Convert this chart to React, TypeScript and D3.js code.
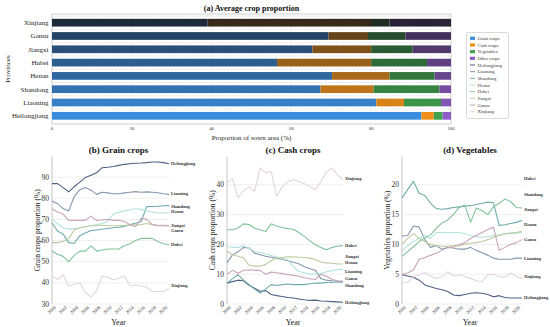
import { useEffect, useRef } from "react";
import * as d3 from "d3";

// ---- data ----
const provinces = ["Heilongjiang", "Liaoning", "Shandong", "Henan", "Hubei", "Jiangxi", "Gansu", "Xinjiang"];
const cropTypes = ["Grain crops", "Cash crops", "Vegetables", "Other crops"];

// average share of sown area (%), same order as provinces
const grainShare = [92.6, 81.3, 67.3, 70.2, 56.4, 65.3, 69.3, 39.0];
const cashShare = [3.1, 6.9, 13.3, 14.4, 23.6, 14.7, 9.9, 41.2];
const vegShare = [2.2, 9.3, 16.5, 11.3, 14.0, 10.4, 9.4, 4.4];
const otherShare = [2.1, 2.5, 2.9, 4.1, 6.0, 9.6, 11.4, 15.4];
const shareTicks = [0, 20, 40, 60, 80, 100];

const years = [2000, 2001, 2002, 2003, 2004, 2005, 2006, 2007, 2008, 2009, 2010,
  2011, 2012, 2013, 2014, 2015, 2016, 2017, 2018, 2019, 2020, 2021];
const yearTicks = [2000, 2002, 2004, 2006, 2008, 2010, 2012, 2014, 2016, 2018, 2020];

const grainByProvince: Record<string, number[]> = {
  Heilongjiang: [86.9, 86.9, 85, 83, 85.5, 87.6, 89.8, 90.8, 92, 94.4, 94.6, 95, 95.5, 96, 96.3, 96.5, 96.6, 96.8, 97.1, 97.1, 96.8, 96.3],
  Liaoning: [78.7, 77.4, 75.1, 74, 80.9, 84, 85, 83.8, 81.8, 82.8, 82.5, 82.1, 82.1, 82.5, 82.8, 83.1, 82.8, 83, 82.8, 82.6, 82.1, 81.8],
  Shandong: [68.3, 64.5, 63, 59, 58.7, 62.3, 63.5, 64.7, 65, 65.3, 65.7, 66, 66.3, 66.7, 67.5, 68.2, 69, 76, 76.1, 76.2, 76.4, 76.5],
  Henan: [70, 68, 66, 65.5, 65.5, 66, 66.5, 67, 67.5, 68, 69, 72.5, 73.3, 74, 74.5, 75, 74.7, 74, 73.5, 73, 73, 73.2],
  Hubei: [55, 53.5, 52.5, 50, 53, 55, 55, 57.5, 55, 55.5, 56, 56, 56, 57.5, 58.5, 60, 61, 61, 61, 59.5, 58.5, 58],
  Jiangxi: [59, 59, 59.5, 61, 65, 66, 66.5, 67, 67, 67.2, 67, 67, 67, 67.2, 67.3, 67.4, 67.5, 68, 67.5, 67.2, 67.2, 67.2],
  Gansu: [75, 73.5, 72.5, 69.5, 69.5, 69.5, 69.5, 71.5, 69.5, 69.7, 70, 69.5, 69.5, 69, 67.5, 66.5, 70.5, 70, 67.5, 67, 67, 66.9],
  Xinjiang: [43.3, 41.6, 43.7, 38.5, 39.3, 40, 35.3, 33.4, 36.3, 43.2, 42.6, 41.4, 42.2, 43.3, 38.5, 39.1, 38.5, 37.9, 35.9, 36, 35.8, 37.3],
};

const cashByProvince: Record<string, number[]> = {
  Heilongjiang: [7, 7.5, 8, 7.8, 6.3, 5.3, 4.3, 4.5, 3.2, 2.8, 2.5, 2.2, 2, 1.7, 1.4, 1.2, 1.3, 1, 0.9, 0.8, 0.7, 0.6],
  Liaoning: [13.8, 16.5, 17.5, 19, 18.8, 17, 16.5, 16, 15.7, 15.3, 15, 14.5, 14, 13.5, 12.5, 11.8, 11.3, 8.5, 8, 7.8, 7.7, 7.6],
  Shandong: [7, 8.5, 9.8, 8, 6.5, 5, 3.7, 5, 6.5, 6.2, 6.5, 6.7, 6.5, 6.5, 6.5, 6.8, 7, 7, 7.2, 7.3, 7.3, 7.3],
  Henan: [19.3, 19, 19, 19.5, 18.8, 17.5, 17.3, 16.8, 16.3, 15.8, 15.3, 14.8, 12.5, 11, 10.5, 10, 10, 10.3, 10.8, 11.2, 11.5, 11.7],
  Hubei: [24.9, 24.9, 25.5, 26.9, 26.7, 25.4, 24.9, 24.3, 26.9, 26.2, 25.7, 25.3, 25.1, 24, 22.7, 21.2, 19.9, 19, 18.2, 19, 19.4, 19.6],
  Jiangxi: [17.7, 16.5, 16, 15.5, 13, 12.7, 12.7, 13.3, 14.5, 15.4, 15.6, 15.8, 15.8, 15.7, 15.6, 15.4, 14.9, 14.1, 13.8, 13.7, 13.4, 13.4],
  Gansu: [10, 11.3, 10.3, 11.3, 11.5, 11.3, 11.3, 10, 10.7, 10.5, 10.2, 9.9, 9.6, 9.3, 8.8, 8.5, 8.2, 10, 9.3, 8.3, 7.7, 7.4],
  Xinjiang: [40.6, 42, 35.6, 38.1, 39.3, 37.8, 45.6, 44, 44.5, 36.1, 39.3, 41.1, 41.7, 41.1, 40.4, 39.3, 38.4, 41.1, 44.2, 45.6, 43.4, 41.7],
};

const vegByProvince: Record<string, number[]> = {
  Heilongjiang: [4.9, 4.7, 4.5, 4, 3.2, 2.9, 2.6, 2.4, 2.1, 1.5, 1.4, 1.6, 1.8, 1.9, 1.8, 1.6, 1.2, 1.4, 1.1, 1, 1, 1],
  Liaoning: [11.4, 11.5, 13.1, 12.9, 10.8, 9.5, 9.8, 9.2, 9.5, 9.4, 9.2, 9.2, 9.5, 9, 8.6, 8.2, 7.7, 7.5, 7.5, 7.5, 7.7, 7.7],
  Shandong: [17.8, 19.2, 20.6, 18.6, 18.2, 16.9, 16, 15.9, 16, 16.2, 16.3, 16.4, 16.5, 16.7, 16.9, 17.1, 17, 13.2, 13.3, 13.5, 13.7, 14],
  Henan: [9, 9.8, 10.5, 11, 11.5, 11, 12, 12, 12, 12, 12, 11.8, 11.5, 11.3, 11.2, 11.3, 11.5, 11.6, 11.8, 11.8, 11.9, 12],
  Hubei: [8, 8.8, 9.6, 10.5, 11.1, 11.6, 12.7, 13.6, 14.1, 15, 16.2, 16.6, 13.7, 16.1, 15.7, 15, 16.3, 16.9, 17.6, 17.2, 16.2, 16.1],
  Jiangxi: [10, 11, 11.8, 11, 10.5, 10, 9.8, 9.7, 9.7, 9.8, 9.8, 10, 10.2, 10.3, 10.5, 10.8, 11.2, 11.5, 11.8, 11.9, 12, 12.2],
  Gansu: [5, 5.2, 5.7, 7.5, 7.8, 8.2, 8.5, 9, 9.5, 9.5, 10, 10.3, 11, 11.5, 12, 12.5, 12.9, 9, 9.5, 10, 10.3, 10.8],
  Xinjiang: [3.7, 3.6, 4.6, 4.9, 5.3, 4.7, 4.3, 4.6, 5.4, 4.7, 4.9, 4.6, 4.3, 3.9, 3.7, 4.9, 5, 4.6, 4.5, 5.2, 4.6, 4.3],
};

// where the province name sits at the end of each line, in axis units
const grainLabelAt = [96.6, 82.2, 76.3, 73.5, 58.1, 67.1, 64.9, 38.6];
const cashLabelAt = [0.6, 10.9, 6.1, 13.8, 19.8, 16, 8.7, 42];
const vegLabelAt = [1.1, 7.6, 18.4, 13.4, 21, 15.8, 10.9, 4.6];

const grainTicks = [30, 40, 50, 60, 70, 80, 90];
const cashTicks = [0, 10, 20, 30, 40];
const vegTicks = [0, 5, 10, 15, 20];

// ---- styles ----
const FONT = "'Liberation Serif', 'Times New Roman', serif";
const cropColors = ["#3a8dde", "#ef9018", "#3fa34d", "#8e5cc7"];
const provinceShade = [0, 0.11, 0.23, 0.32, 0.4, 0.52, 0.63, 0.85];
const lineColors = ["#4f5f83", "#8496ab", "#6fabab", "#b3e2df", "#80c29a", "#bdcb9f", "#c9a5b8", "#e5d5de"];

const panels = [
  { title: "(b) Grain crops", ylabel: "Grain crops proportion (%)", series: grainByProvince, labelAt: grainLabelAt, domain: [30, 99.7], ticks: grainTicks, left: 52, right: 169 },
  { title: "(c) Cash crops", ylabel: "Cash crops proportion (%)", series: cashByProvince, labelAt: cashLabelAt, domain: [0, 49.5], ticks: cashTicks, left: 227, right: 343 },
  { title: "(d) Vegetables", ylabel: "Vegetables proportion (%)", series: vegByProvince, labelAt: vegLabelAt, domain: [0, 24.75], ticks: vegTicks, left: 402, right: 522 },
];

export default function App() {
  const svgRef = useRef<SVGSVGElement>(null);

  useEffect(() => {
    if (!svgRef.current) return;
    const svg = d3.select(svgRef.current);
    svg.selectAll("*").remove();
    svg.attr("font-family", FONT);

    // ── (a) stacked bars ──
    const frame = { left: 52, right: 451, top: 14, bottom: 124 };
    const xA = d3.scaleLinear().domain([0, 100]).range([frame.left, frame.right]);
    const yA = d3
      .scaleBand()
      .domain([...provinces].reverse())
      .range([15.5, 123])
      .paddingInner(0.42)
      .paddingOuter(0.25);

    const rows = provinces.map((p, i) => ({
      province: p,
      "Grain crops": grainShare[i],
      "Cash crops": cashShare[i],
      Vegetables: vegShare[i],
      "Other crops": otherShare[i],
    }));
    const stacked = d3.stack<any>().keys(cropTypes)(rows);

    const gA = svg.append("g");
    gA.append("rect")
      .attr("x", frame.left)
      .attr("y", frame.top)
      .attr("width", frame.right - frame.left)
      .attr("height", frame.bottom - frame.top)
      .attr("fill", "white")
      .attr("stroke", "#cfcfcf")
      .attr("stroke-width", 1);

    gA.selectAll("line.vgrid")
      .data(shareTicks.slice(1, -1))
      .join("line")
      .attr("x1", (d) => xA(d))
      .attr("x2", (d) => xA(d))
      .attr("y1", frame.top)
      .attr("y2", frame.bottom)
      .attr("stroke", "#ececec")
      .attr("stroke-width", 0.6);

    const gap = (yA.step() * yA.paddingInner()) / 2;
    gA.selectAll("line.hgrid")
      .data(provinces)
      .join("line")
      .attr("x1", frame.left)
      .attr("x2", frame.right)
      .attr("y1", (d) => (yA(d) ?? 0) - gap)
      .attr("y2", (d) => (yA(d) ?? 0) - gap)
      .attr("stroke", "#cfcfcf")
      .attr("stroke-width", 0.6)
      .attr("stroke-dasharray", "2,1.5");

    stacked.forEach((layer, k) => {
      gA.append("g")
        .selectAll("rect")
        .data(layer)
        .join("rect")
        .attr("x", (d) => xA(d[0]))
        .attr("width", (d) => xA(d[1]) - xA(d[0]))
        .attr("y", (d: any) => yA(d.data.province) ?? 0)
        .attr("height", yA.bandwidth())
        .attr("fill", (_, i) => d3.interpolateRgb(cropColors[k], "#18181c")(provinceShade[i]));
    });

    gA.selectAll("text.ytick")
      .data(provinces)
      .join("text")
      .attr("x", frame.left - 3.5)
      .attr("y", (d) => (yA(d) ?? 0) + yA.bandwidth() / 2)
      .attr("dy", "0.35em")
      .attr("text-anchor", "end")
      .attr("font-size", 7)
      .attr("fill", "#222")
      .text((d) => d);

    gA.selectAll("text.xtick")
      .data(shareTicks)
      .join("text")
      .attr("x", (d) => xA(d))
      .attr("y", 130)
      .attr("text-anchor", "middle")
      .attr("font-size", 4.6)
      .attr("fill", "#333")
      .text((d) => d);

    gA.append("text")
      .attr("x", (frame.left + frame.right) / 2)
      .attr("y", 139.5)
      .attr("text-anchor", "middle")
      .attr("font-size", 7)
      .attr("fill", "#222")
      .text("Proportion of sown area (%)");

    gA.append("text")
      .attr("transform", `translate(9.5,${(frame.top + frame.bottom) / 2}) rotate(-90)`)
      .attr("text-anchor", "middle")
      .attr("font-size", 7)
      .attr("fill", "#222")
      .text("Provinces");

    gA.append("text")
      .attr("x", (frame.left + frame.right) / 2)
      .attr("y", 10.5)
      .attr("text-anchor", "middle")
      .attr("font-size", 8)
      .attr("font-weight", "bold")
      .attr("fill", "#111")
      .text("(a) Average crop proportion");

    // ── legend ──
    const lg = svg.append("g");
    lg.append("rect")
      .attr("x", 466.5)
      .attr("y", 32.5)
      .attr("width", 42)
      .attr("height", 86)
      .attr("rx", 1.5)
      .attr("fill", "white")
      .attr("stroke", "#d0d0d0")
      .attr("stroke-width", 0.8);
    const entries = [
      ...cropTypes.map((c, i) => ({ name: c, color: cropColors[i], kind: "patch" })),
      ...provinces.map((p, i) => ({ name: p, color: lineColors[i], kind: "line" })),
    ];
    const ly = d3.scaleLinear().domain([0, entries.length - 1]).range([38.3, 111.7]);
    entries.forEach((e, i) => {
      if (e.kind === "patch") {
        lg.append("rect").attr("x", 470).attr("y", ly(i) - 1.6).attr("width", 5).attr("height", 3.2).attr("fill", e.color);
      } else {
        lg.append("line").attr("x1", 470).attr("x2", 475).attr("y1", ly(i)).attr("y2", ly(i)).attr("stroke", e.color).attr("stroke-width", 1);
      }
      lg.append("text")
        .attr("x", 477.5)
        .attr("y", ly(i))
        .attr("dy", "0.35em")
        .attr("font-size", 4.7)
        .attr("fill", "#333")
        .text(e.name);
    });

    // ── (b)(c)(d) line panels ──
    const top = 156.5;
    const bottom = 304;
    panels.forEach((p) => {
      const g = svg.append("g");
      const x = d3.scaleLinear().domain([years[0], years[years.length - 1]]).range([p.left, p.right]);
      const y = d3.scaleLinear().domain(p.domain).range([bottom, top]);

      g.selectAll("line.grid")
        .data(p.ticks)
        .join("line")
        .attr("x1", p.left)
        .attr("x2", p.right)
        .attr("y1", (d) => y(d))
        .attr("y2", (d) => y(d))
        .attr("stroke", "#e8e8e8")
        .attr("stroke-width", 0.7);

      g.append("line")
        .attr("x1", p.left)
        .attr("x2", p.left)
        .attr("y1", top)
        .attr("y2", bottom)
        .attr("stroke", "#c4c4c4")
        .attr("stroke-width", 1);

      const line = d3
        .line<number>()
        .x((_, i) => x(years[i]))
        .y((d) => y(d));

      provinces.forEach((prov, i) => {
        g.append("path")
          .attr("d", line(p.series[prov]) ?? "")
          .attr("fill", "none")
          .attr("stroke", lineColors[i])
          .attr("stroke-width", 1.1)
          .attr("stroke-linejoin", "round");
      });

      g.selectAll("text.endlabel")
        .data(provinces)
        .join("text")
        .attr("x", p.right + 2)
        .attr("y", (_, i) => y(p.labelAt[i]))
        .attr("dy", "0.35em")
        .attr("font-size", 4.4)
        .attr("font-weight", "bold")
        .attr("fill", "#333")
        .text((d) => d);

      g.selectAll("text.ytick")
        .data(p.ticks)
        .join("text")
        .attr("x", p.left - 3)
        .attr("y", (d) => y(d))
        .attr("dy", "0.35em")
        .attr("text-anchor", "end")
        .attr("font-size", 7.5)
        .attr("fill", "#333")
        .text((d) => d);

      g.selectAll("text.xtick")
        .data(yearTicks)
        .join("text")
        .attr("transform", (d) => `translate(${x(d) + 3},${bottom + 2.5}) rotate(-45)`)
        .attr("text-anchor", "end")
        .attr("dy", "0.35em")
        .attr("font-size", 4.8)
        .attr("fill", "#333")
        .text((d) => d);

      const mid = (p.left + p.right) / 2 + 8;
      g.append("text")
        .attr("x", mid)
        .attr("y", 153)
        .attr("text-anchor", "middle")
        .attr("font-size", 9)
        .attr("font-weight", "bold")
        .attr("fill", "#111")
        .text(p.title);

      g.append("text")
        .attr("x", mid)
        .attr("y", 324.5)
        .attr("text-anchor", "middle")
        .attr("font-size", 8)
        .attr("fill", "#222")
        .text("Year");

      g.append("text")
        .attr("transform", `translate(${p.left - 12},${(top + bottom) / 2}) rotate(-90)`)
        .attr("text-anchor", "middle")
        .attr("font-size", 7.5)
        .attr("fill", "#222")
        .text(p.ylabel);
    });
  }, []);

  return (
    <div style={{ position: "absolute", left: 0, top: 0 }}>
      <svg ref={svgRef} width={550} height={327} style={{ display: "block", background: "white" }} />
    </div>
  );
}
